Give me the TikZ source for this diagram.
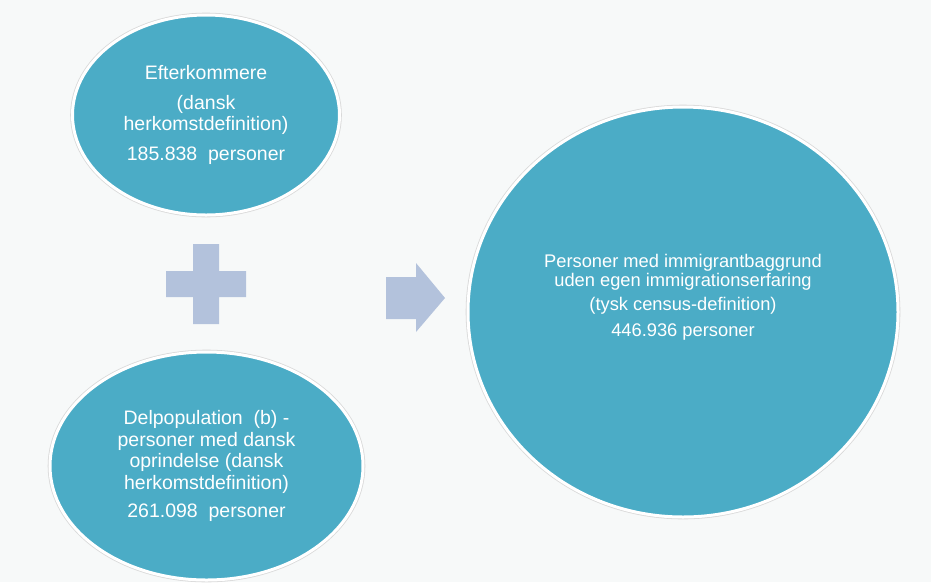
\documentclass[tikz,border=0pt]{standalone}
\usepackage{xcolor}
\usepackage{fontspec}
\setmainfont{Liberation Sans}
\usetikzlibrary{shapes.geometric}

\definecolor{aqua}{HTML}{4BACC6}
\definecolor{lavender}{HTML}{B3C2DC}
\definecolor{backgr}{HTML}{F7F9F9}

\begin{document}
\begin{tikzpicture}[x=1pt,y=-1pt,semithick]
        \tikzstyle{group}=[ellipse,fill=aqua,draw=white,line width=3pt,
            preaction={draw=black!15,line width=4.6pt},inner sep=0pt]
        \tikzstyle{txt}=[text=white,align=center,
            font=\fontsize{19.5}{21.5}\selectfont]
        \tikzstyle{sign}=[fill=lavender]

        \fill[backgr] (0,0) rectangle (931,582);
        \useasboundingbox (0,0) rectangle (931,582);

        \node[group,txt,minimum width=267pt,minimum height=200pt] (E) at (206,115)
            {Efterkommere\\[8pt](dansk\\herkomstdefinition)\\[8pt]185.838\ \ personer};
        \node[group,txt,minimum width=313pt,minimum height=228pt] (D) at (206.5,466)
            {Delpopulation\ \ (b) -\\personer med dansk\\oprindelse (dansk\\herkomstdefinition)\\[6.5pt]261.098\ \ personer};
        \node[group,minimum width=430pt,minimum height=410pt] (C) at (683,312) {};
        \node[txt,font=\fontsize{18.3}{19}\selectfont] (Ct) at (683,297.5)
            {Personer med immigrantbaggrund\\uden egen immigrationserfaring\\[5pt](tysk census-definition)\\[7pt]446.936 personer};

        % plus
        \fill[sign] (193,244) -- (219,244) -- (219,271) -- (246,271) -- (246,297)
            -- (219,297) -- (219,324) -- (193,324) -- (193,297) -- (166,297)
            -- (166,271) -- (193,271) -- cycle;
        % arrow
        \fill[sign] (386,277) -- (416,277) -- (416,263) -- (445,298) -- (416,332)
            -- (416,319) -- (386,319) -- cycle;
    \end{tikzpicture}
\end{document}
